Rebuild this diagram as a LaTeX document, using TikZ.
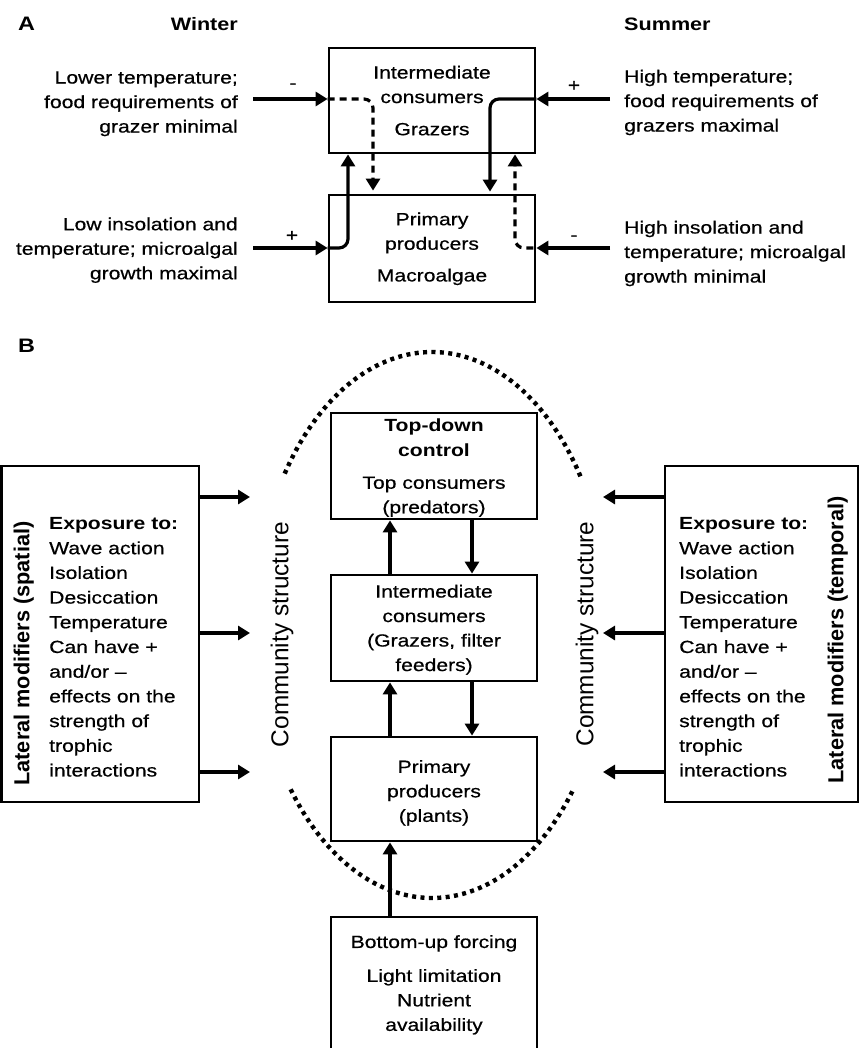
\documentclass[tikz,border=0pt]{standalone}
\usepackage{fontspec}
\setmainfont{Liberation Sans}
\newfontfamily\wf[FakeStretch=1.2, UprightFeatures={FakeBold=0.6}]{Liberation Sans}
\usetikzlibrary{arrows.meta}
\newcommand\bodyf{\wf\fontsize{17.6}{24.5}\selectfont}
\newcommand\sidef{\wf\fontsize{17.6}{24.7}\selectfont}
\newcommand\headf{\wf\bfseries\fontsize{18}{22}\selectfont}
\newcommand\panelf{\wf\bfseries\fontsize{19.5}{22}\selectfont}
\newcommand\latf{\bfseries\fontsize{21.7}{26}\selectfont}
\newcommand\comf{\fontsize{24.4}{28}\selectfont}
\begin{document}
\begin{tikzpicture}[x=1pt,y=-1pt,
  box/.style={draw, line width=2.8pt, inner sep=0pt},
  conn/.style={line width=3.2pt, -{Triangle[length=12pt,width=14pt]}},
  dconn/.style={conn, dash pattern=on 7pt off 5pt},
  txt/.style={font=\bodyf, inner sep=0pt},
  stxt/.style={font=\sidef, inner sep=0pt, align=left, anchor=north west},
  sign/.style={font=\bodyf, inner sep=0pt, anchor=base},
  dots/.style={line width=4.4pt, line cap=butt, dash pattern=on 4pt off 4.4pt},
]
\useasboundingbox (0,0) rectangle (865,1048);

% ---------------- Panel A ----------------
\node[font=\panelf, anchor=base west, inner sep=0pt] (pa) at (18,30.7) {A};
\node[font=\headf, anchor=base east, inner sep=0pt] (win) at (238,30.7) {Winter};
\node[font=\headf, anchor=base west, inner sep=0pt] (sum) at (624,30.7) {Summer};

\node[box, minimum width=206pt, minimum height=105pt] (ic) at (432,100.5) {};
\node[box, minimum width=206pt, minimum height=107pt] (pp) at (432,248.5) {};
\node[txt, align=center, anchor=north] (ict) at (432,61.2)
  {\strut Intermediate\\consumers\\[7.7pt]Grazers};
\node[txt, align=center, anchor=north] (ppt) at (432,207.9)
  {\strut Primary\\producers\\[7.2pt]Macroalgae};

\node[txt, align=right, anchor=north east] (wt1) at (238,66.2)
  {\strut Lower temperature;\\food requirements of\\grazer minimal};
\node[txt, align=right, anchor=north east] (wt2) at (238,212.9)
  {\strut Low insolation and\\temperature; microalgal\\growth maximal};
\node[txt, align=left, anchor=north west] (st1) at (624,65.2)
  {\strut High temperature;\\food requirements of\\grazers maximal};
\node[txt, align=left, anchor=north west] (st2) at (624,216.2)
  {\strut High insolation and\\temperature; microalgal\\growth minimal};

\node[sign] (s1) at (293,88.7) {-};
\node[sign] (s2) at (574,91.2) {+};
\node[sign] (s3) at (292,241.2) {+};
\node[sign] (s4) at (574,240.7) {-};

\coordinate (wl1) at (253,99);
\coordinate (wl2) at (253,248);
\coordinate (sr1) at (610,99);
\coordinate (sr2) at (610,248);
\coordinate (wd) at (373,0);
\coordinate (ws) at (348,0);
\coordinate (ss) at (490,0);
\coordinate (sd) at (515,0);

\draw[conn] (wl1) -- (ic.west |- wl1);
\draw[dconn, rounded corners=9pt] (ic.west |- wl1) -- (wd |- wl1) -- ([yshift=3pt]wd |- pp.north);
\draw[conn] (wl2) -- (pp.west |- wl2);
\draw[conn, rounded corners=9pt] (pp.west |- wl2) -- (ws |- wl2) -- (ws |- ic.south);
\draw[conn] (sr1) -- (ic.east |- sr1);
\draw[conn, rounded corners=9pt] (ic.east |- sr1) -- (ss |- sr1) -- ([yshift=2pt]ss |- pp.north);
\draw[conn] (sr2) -- (pp.east |- sr2);
\draw[dconn, rounded corners=9pt] ([xshift=-3pt]pp.east |- sr2) -- (sd |- sr2) -- (sd |- ic.south);

% ---------------- Panel B ----------------
\node[font=\panelf, anchor=base west, inner sep=0pt] (pb) at (18,352) {B};

\node[box, minimum width=206pt, minimum height=106pt] (tb) at (434,466) {};
\node[box, minimum width=206pt, minimum height=106pt] (mc) at (434,628) {};
\node[box, minimum width=206pt, minimum height=104pt] (pr) at (434,789) {};
\node[box, minimum width=206pt, minimum height=143pt] (bu) at (434,988.5) {};
\node[box, minimum width=197.5pt, minimum height=336pt] (lb) at (100.25,634) {};
\node[box, minimum width=193pt, minimum height=336pt] (rb) at (761.5,634) {};

\node[txt, align=center, anchor=north] (tbt) at (434,414.6)
  {\strut\textbf{Top-down}\\\textbf{control}\\[7.8pt]Top consumers\\(predators)};
\node[txt, align=center, anchor=north] (mct) at (434,580.2)
  {\strut Intermediate\\consumers\\(Grazers, filter\\feeders)};
\node[txt, align=center, anchor=north] (prt) at (434,755.5)
  {\strut Primary\\producers\\(plants)};
\node[txt, align=center, anchor=north] (but) at (434,930.6)
  {\strut Bottom-up forcing\\[9.4pt]Light limitation\\Nutrient\\availability};

\node[stxt] (lbt) at (49,512)
  {\strut\textbf{Exposure to:}\\Wave action\\Isolation\\Desiccation\\Temperature\\Can have +\\and/or –\\effects on the\\strength of\\trophic\\interactions};
\node[stxt] (rbt) at (679,512)
  {\strut\textbf{Exposure to:}\\Wave action\\Isolation\\Desiccation\\Temperature\\Can have +\\and/or –\\effects on the\\strength of\\trophic\\interactions};

\node[font=\latf, rotate=90, anchor=base, inner sep=0pt] (ll) at (29.3,653.5) {Lateral modifiers (spatial)};
\node[font=\latf, rotate=90, anchor=base, inner sep=0pt] (rl) at (843.3,640) {Lateral modifiers (temporal)};
\node[font=\comf, rotate=90, anchor=base, inner sep=0pt] (cl) at (288.3,634.5) {Community structure};
\node[font=\comf, rotate=90, anchor=base, inner sep=0pt] (cr) at (593.3,634) {Community structure};

\coordinate (ec) at (432,625);
\draw[dots] (ec) ++(33:177pt and 273pt) arc[start angle=33, end angle=147, x radius=177pt, y radius=273pt];
\draw[dots] (ec) ++(217:177pt and 273pt) arc[start angle=217, end angle=323, x radius=177pt, y radius=273pt];

\coordinate (lt1) at (250,497);
\coordinate (lt2) at (250,633);
\coordinate (lt3) at (250,772);
\coordinate (rt1) at (603,497);
\coordinate (rt2) at (603,633);
\coordinate (rt3) at (603,772);
\draw[conn] (lb.east |- lt1) -- (lt1);
\draw[conn] (lb.east |- lt2) -- (lt2);
\draw[conn] (lb.east |- lt3) -- (lt3);
\draw[conn] (rb.west |- rt1) -- (rt1);
\draw[conn] (rb.west |- rt2) -- (rt2);
\draw[conn] (rb.west |- rt3) -- (rt3);

\coordinate (up) at (390,0);
\coordinate (dn) at (472,0);
\draw[conn] (up |- mc.north) -- (up |- tb.south);
\draw[conn] (dn |- tb.south) -- (dn |- mc.north);
\draw[conn] (up |- pr.north) -- (up |- mc.south);
\draw[conn] (dn |- mc.south) -- (dn |- pr.north);
\draw[conn] (up |- bu.north) -- (up |- pr.south);
\end{tikzpicture}
\end{document}
